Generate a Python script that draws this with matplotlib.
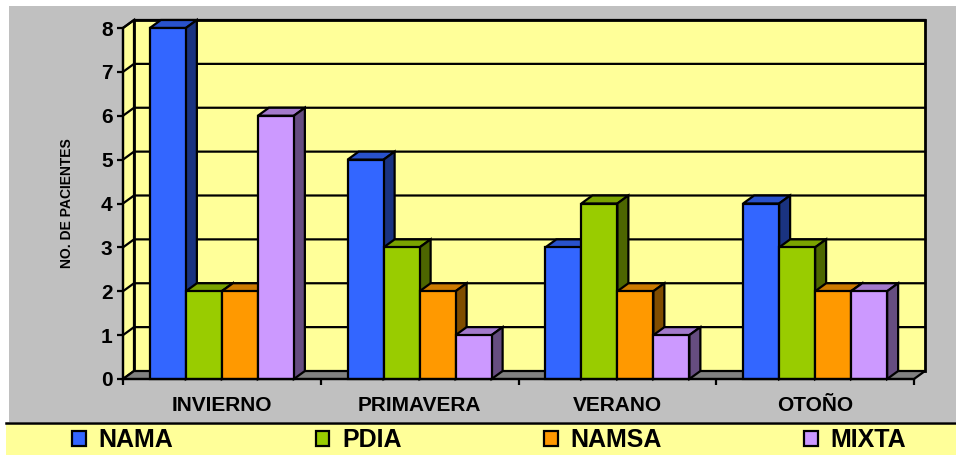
import matplotlib
matplotlib.use("Agg")
import matplotlib.pyplot as plt
from matplotlib.patches import Polygon, Rectangle
from matplotlib.lines import Line2D

plt.rcParams['font.family'] = ['Liberation Sans', 'DejaVu Sans']

# ---- data ----
categories = ["INVIERNO", "PRIMAVERA", "VERANO", "OTOÑO"]
series_names = ["NAMA", "PDIA", "NAMSA", "MIXTA"]
nama = [8, 5, 3, 4]
pdia = [2, 3, 4, 3]
namsa = [2, 2, 2, 2]
mixta = [6, 1, 1, 2]
y_ticks = [0, 1, 2, 3, 4, 5, 6, 7, 8]
y_title = "NO. DE PACIENTES"

series_values = [nama, pdia, namsa, mixta]
front_cols = ["#3366FF", "#99CC00", "#FF9900", "#CC99FF"]
side_cols = ["#1A3380", "#4D6600", "#804D00", "#664D80"]
top_cols = ["#2952CC", "#7AA300", "#CC7A00", "#A37ACC"]

W, H = 956, 455
fig = plt.figure(figsize=(W / 100, H / 100), dpi=100)
fig.patch.set_facecolor("white")

def fx(px):
    return px / W

def fy(py):
    return (H - py) / H

# background panels
fig.patches.append(Rectangle((fx(9), fy(422)), fx(956) - fx(9), fy(6) - fy(422),
                             transform=fig.transFigure, facecolor="#C0C0C0",
                             edgecolor="none", zorder=-2))
fig.patches.append(Rectangle((fx(6), fy(455)), fx(956) - fx(6), fy(424) - fy(455),
                             transform=fig.transFigure, facecolor="#FFFF99",
                             edgecolor="none", zorder=-2))
fig.lines.append(Line2D([fx(6), 1], [fy(423), fy(423)], transform=fig.transFigure,
                        color="black", lw=1.8, zorder=-1))

# axes = front plane
left, right, bottom_px, top_px = 123, 914, 379, 28
ax = fig.add_axes([fx(left), fy(bottom_px), fx(right) - fx(left), fy(top_px) - fy(bottom_px)])
ax.set_zorder(1)
ax.set_xlim(-0.5, len(categories) - 0.5)
ax.set_ylim(0, 8)
ax.patch.set_alpha(0)

px_per_x = (right - left) / len(categories)
px_per_y = (bottom_px - top_px) / 8.0
ddx = 11 / px_per_x
ddy = 8 / px_per_y
x0, x1 = -0.5, len(categories) - 0.5
ymax = 8
lw = 1.6

# back wall
ax.add_patch(Rectangle((x0 + ddx, ddy), x1 - x0, ymax, facecolor="#FFFF99",
                       edgecolor="black", lw=lw + 0.4, zorder=1, clip_on=False))
# side wall
ax.add_patch(Polygon([(x0, 0), (x0 + ddx, ddy), (x0 + ddx, ymax + ddy), (x0, ymax)],
                     closed=True, facecolor="#FFFF99", edgecolor="black", lw=lw,
                     zorder=1, clip_on=False))
# floor
ax.add_patch(Polygon([(x0, 0), (x1, 0), (x1 + ddx, ddy), (x0 + ddx, ddy)],
                     closed=True, facecolor="#808080", edgecolor="black", lw=lw,
                     zorder=1.5, clip_on=False))
# gridlines
for k in y_ticks[1:]:
    ax.plot([x0, x0 + ddx, x1 + ddx], [k, k + ddy, k + ddy], color="black", lw=lw,
            zorder=1.2, clip_on=False, solid_joinstyle="miter")

# bars
n = len(series_values)
bw = 36 / px_per_x
for ci in range(len(categories)):
    for si in range(n):
        v = series_values[si][ci]
        xc = ci + (si - (n - 1) / 2) * bw
        a, b = xc - bw / 2, xc + bw / 2
        z = 3 + ci * 10 + si
        ax.add_patch(Polygon([(a, v), (a + ddx, v + ddy), (b + ddx, v + ddy), (b, v)],
                             closed=True, facecolor=top_cols[si], edgecolor="black",
                             lw=lw, zorder=z, clip_on=False))
        ax.add_patch(Polygon([(b, 0), (b + ddx, ddy), (b + ddx, v + ddy), (b, v)],
                             closed=True, facecolor=side_cols[si], edgecolor="black",
                             lw=lw, zorder=z, clip_on=False))
for si in range(n):
    xs = [ci + (si - (n - 1) / 2) * bw for ci in range(len(categories))]
    bars = ax.bar(xs, series_values[si], width=bw, color=front_cols[si],
                  edgecolor="black", linewidth=lw, label=series_names[si], clip_on=False)
    for ci, p in enumerate(bars):
        p.set_zorder(3 + ci * 10 + si + 0.5)

# axes styling
for s in ["top", "right"]:
    ax.spines[s].set_visible(False)
ax.spines["left"].set_linewidth(lw)
ax.spines["bottom"].set_linewidth(lw)
ax.spines["left"].set_zorder(60)
ax.spines["bottom"].set_zorder(60)
ax.set_yticks(y_ticks)
ax.set_yticklabels([str(t) for t in y_ticks], fontsize=15, fontweight="bold")
ax.tick_params(axis="y", direction="out", length=4.5, width=lw, pad=3)
ax.set_xticks([x0 + i for i in range(len(categories) + 1)])
ax.set_xticklabels([])
ax.tick_params(axis="x", which="major", direction="out", length=4, width=lw)
ax.set_xticks(range(len(categories)), minor=True)
ax.set_xticklabels(categories, minor=True, fontsize=15, fontweight="bold")
ax.tick_params(axis="x", which="minor", length=0, pad=12)

fig.text(fx(67), fy(203), y_title, rotation=90, ha="center", va="center",
         fontsize=10, fontweight="bold")

handles, labels = ax.get_legend_handles_labels()
leg = fig.legend(handles, labels, ncol=4, loc="center",
                 bbox_to_anchor=(fx(489), fy(440)), frameon=False,
                 prop={"size": 18, "weight": "bold"}, handlelength=0.55,
                 handleheight=0.55, handletextpad=0.5, columnspacing=5.7,
                 borderpad=0, borderaxespad=0)
for h in leg.legend_handles:
    h.set_linewidth(1.6)

fig.savefig("out.png", dpi=100, facecolor=fig.get_facecolor())
